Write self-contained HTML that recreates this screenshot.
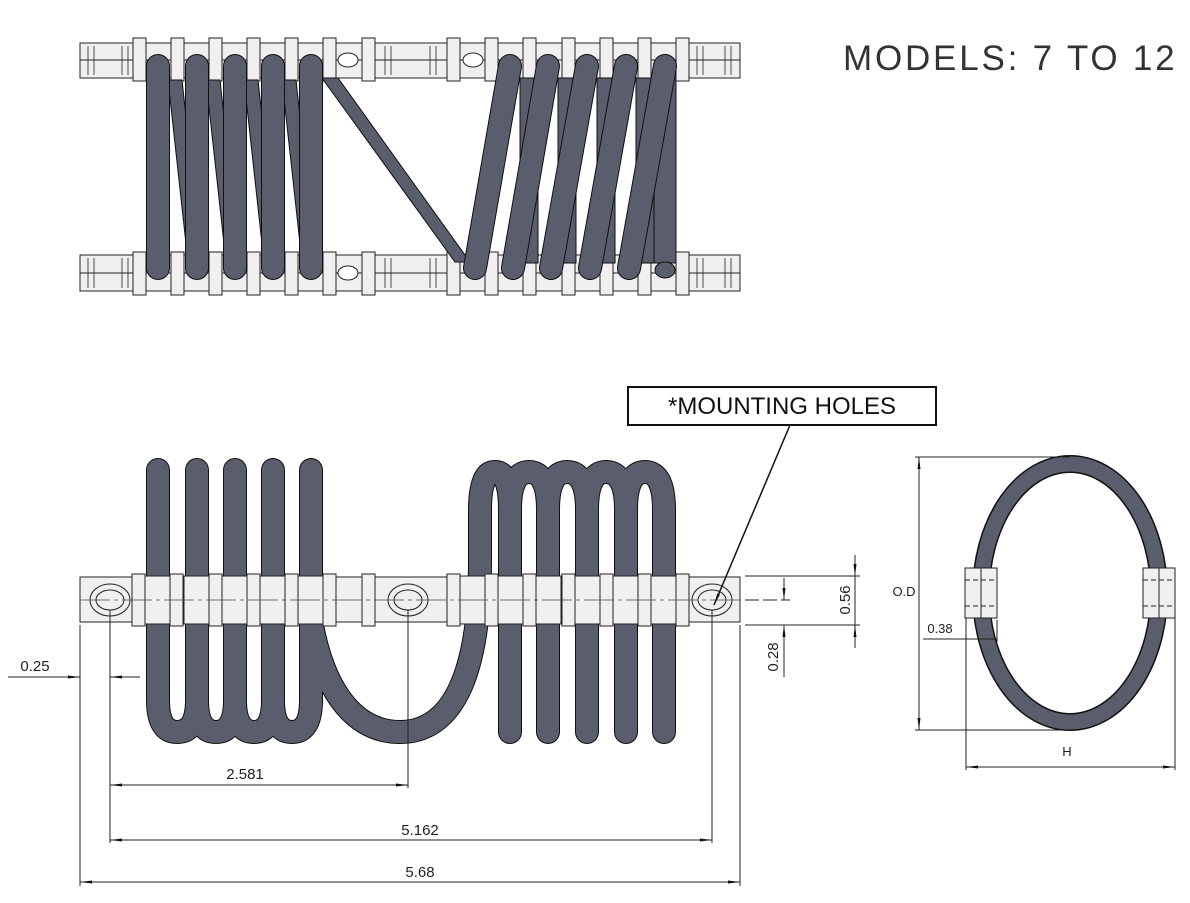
<!DOCTYPE html>
<html><head><meta charset="utf-8"><style>
html,body{margin:0;padding:0;background:#fff;}
svg{display:block;}
text{font-family:"Liberation Sans",sans-serif;}
</style></head><body>
<svg width="1190" height="903" viewBox="0 0 1190 903" xmlns="http://www.w3.org/2000/svg">
<defs>
<marker id="ar" viewBox="0 0 12 6" refX="12" refY="3" markerWidth="12" markerHeight="6" orient="auto-start-reverse" markerUnits="userSpaceOnUse"><path d="M0,1.5 L12,3 L0,4.5z" fill="#111"/></marker>
</defs>
<rect width="1190" height="903" fill="#fff"/>
<text x="843" y="70" font-size="35" fill="#333" letter-spacing="2.8">MODELS: 7 TO 12</text>

<!-- TOP VIEW -->
<g stroke="#222" stroke-width="1">
<rect x="80" y="43" width="660" height="35" fill="#f0f0f0"/>
<rect x="80" y="255" width="660" height="36" fill="#f0f0f0"/>
<line x1="80" y1="60" x2="740" y2="60"/>
<line x1="80" y1="273" x2="740" y2="273"/>
<g stroke-width="0.8">
<line x1="88" y1="46" x2="88" y2="75"/><line x1="94" y1="46" x2="94" y2="75"/><line x1="122" y1="46" x2="122" y2="75"/><line x1="128" y1="46" x2="128" y2="75"/>
<line x1="88" y1="258" x2="88" y2="288"/><line x1="94" y1="258" x2="94" y2="288"/><line x1="122" y1="258" x2="122" y2="288"/><line x1="128" y1="258" x2="128" y2="288"/>
<line x1="385" y1="46" x2="385" y2="75"/><line x1="391" y1="46" x2="391" y2="75"/><line x1="430" y1="46" x2="430" y2="75"/><line x1="436" y1="46" x2="436" y2="75"/>
<line x1="385" y1="258" x2="385" y2="288"/><line x1="391" y1="258" x2="391" y2="288"/><line x1="430" y1="258" x2="430" y2="288"/><line x1="436" y1="258" x2="436" y2="288"/>
<line x1="697" y1="46" x2="697" y2="75"/><line x1="703" y1="46" x2="703" y2="75"/><line x1="725" y1="46" x2="725" y2="75"/><line x1="731" y1="46" x2="731" y2="75"/>
<line x1="697" y1="258" x2="697" y2="288"/><line x1="703" y1="258" x2="703" y2="288"/><line x1="725" y1="258" x2="725" y2="288"/><line x1="731" y1="258" x2="731" y2="288"/>
</g>
<g fill="#f0f0f0">
<rect x="133" y="38" width="13" height="43"/><rect x="171" y="38" width="13" height="43"/><rect x="209" y="38" width="13" height="43"/><rect x="247" y="38" width="13" height="43"/><rect x="285" y="38" width="13" height="43"/><rect x="323" y="38" width="13" height="43"/><rect x="362" y="38" width="13" height="43"/><rect x="447" y="38" width="13" height="43"/><rect x="485" y="38" width="13" height="43"/><rect x="523" y="38" width="13" height="43"/><rect x="562" y="38" width="13" height="43"/><rect x="600" y="38" width="13" height="43"/><rect x="638" y="38" width="13" height="43"/><rect x="676" y="38" width="13" height="43"/>
<rect x="133" y="252" width="13" height="43"/><rect x="171" y="252" width="13" height="43"/><rect x="209" y="252" width="13" height="43"/><rect x="247" y="252" width="13" height="43"/><rect x="285" y="252" width="13" height="43"/><rect x="323" y="252" width="13" height="43"/><rect x="362" y="252" width="13" height="43"/><rect x="447" y="252" width="13" height="43"/><rect x="485" y="252" width="13" height="43"/><rect x="523" y="252" width="13" height="43"/><rect x="562" y="252" width="13" height="43"/><rect x="600" y="252" width="13" height="43"/><rect x="638" y="252" width="13" height="43"/><rect x="676" y="252" width="13" height="43"/>
</g>
<ellipse cx="348" cy="60" rx="10" ry="7" fill="#fff"/>
<ellipse cx="473" cy="60" rx="10" ry="7" fill="#fff"/>
<ellipse cx="348" cy="273" rx="10" ry="7" fill="#fff"/>
</g>
<g fill="#5a5d6b" stroke="#111" stroke-width="1">
<polygon points="168,80 182,80 202,262 188,262"/>
<polygon points="206,80 220,80 240,262 226,262"/>
<polygon points="244,80 258,80 278,262 264,262"/>
<polygon points="282,80 296,80 316,262 302,262"/>
<polygon points="322,78 338,78 470,262 455,262"/>
<rect x="520" y="78" width="18" height="185"/><rect x="558" y="78" width="18" height="185"/><rect x="597" y="78" width="18" height="185"/><rect x="636" y="78" width="18" height="185"/><rect x="654" y="78" width="22" height="185"/>
</g>
<g stroke-linecap="round" fill="none">
<g stroke="#111" stroke-width="24">
<path d="M158,66V268M197,66V268M235,66V268M273,66V268M311,66V268"/>
<path d="M475,268L510,66M513,268L548,66M551,268L587,66M590,268L626,66M629,268L665,66"/>
</g>
<g stroke="#5a5d6b" stroke-width="22">
<path d="M158,66V268M197,66V268M235,66V268M273,66V268M311,66V268"/>
<path d="M475,268L510,66M513,268L548,66M551,268L587,66M590,268L626,66M629,268L665,66"/>
</g>
</g>
<ellipse cx="665" cy="270" rx="10" ry="8" fill="#5a5d6b" stroke="#111"/>

<!-- FRONT VIEW coils -->
<g fill="none" stroke-linecap="round">
<g stroke="#111" stroke-width="24">
<path d="M158,470V700Q158,732 177,732Q197,732 197,700V470"/>
<path d="M197,700Q197,732 216,732Q235,732 235,700V470"/>
<path d="M235,700Q235,732 254,732Q273,732 273,700V470"/>
<path d="M273,700Q273,732 292,732Q311,732 311,700V470"/>
<path d="M311,620C325,700 360,732 400,732C450,732 480,680 480,560V510Q480,472 495,472Q510,472 510,510V732"/>
<path d="M510,510Q510,472 529,472Q548,472 548,510V732"/>
<path d="M548,510Q548,472 567,472Q587,472 587,510V732"/>
<path d="M587,510Q587,472 606,472Q626,472 626,510V732"/>
<path d="M626,510Q626,472 645,472Q664,472 664,510V732"/>
</g>
<g stroke="#5a5d6b" stroke-width="22">
<path d="M158,470V700Q158,732 177,732Q197,732 197,700V470"/>
<path d="M197,700Q197,732 216,732Q235,732 235,700V470"/>
<path d="M235,700Q235,732 254,732Q273,732 273,700V470"/>
<path d="M273,700Q273,732 292,732Q311,732 311,700V470"/>
<path d="M311,620C325,700 360,732 400,732C450,732 480,680 480,560V510Q480,472 495,472Q510,472 510,510V732"/>
<path d="M510,510Q510,472 529,472Q548,472 548,510V732"/>
<path d="M548,510Q548,472 567,472Q587,472 587,510V732"/>
<path d="M587,510Q587,472 606,472Q626,472 626,510V732"/>
<path d="M626,510Q626,472 645,472Q664,472 664,510V732"/>
</g>
</g>
<g stroke="#222" stroke-width="1" fill="#f0f0f0">
<rect x="80" y="577" width="660" height="45"/>
<rect x="132" y="574" width="13" height="52"/><rect x="145" y="576" width="25" height="48"/>
<rect x="170" y="574" width="13" height="52"/><rect x="184" y="576" width="25" height="48"/>
<rect x="209" y="574" width="13" height="52"/><rect x="222" y="576" width="25" height="48"/>
<rect x="247" y="574" width="13" height="52"/><rect x="260" y="576" width="25" height="48"/>
<rect x="285" y="574" width="13" height="52"/><rect x="298" y="576" width="25" height="48"/>
<rect x="323" y="574" width="13" height="52"/><rect x="362" y="574" width="13" height="52"/>
<rect x="447" y="574" width="13" height="52"/><rect x="460" y="576" width="25" height="48"/>
<rect x="485" y="574" width="13" height="52"/><rect x="498" y="576" width="25" height="48"/>
<rect x="523" y="574" width="13" height="52"/><rect x="536" y="576" width="25" height="48"/>
<rect x="562" y="574" width="13" height="52"/><rect x="575" y="576" width="25" height="48"/>
<rect x="600" y="574" width="13" height="52"/><rect x="613" y="576" width="25" height="48"/>
<rect x="638" y="574" width="13" height="52"/><rect x="651" y="576" width="25" height="48"/>
<rect x="676" y="574" width="13" height="52"/>
<ellipse cx="110" cy="600" rx="20" ry="16"/><ellipse cx="110" cy="600" rx="14" ry="10"/>
<ellipse cx="408" cy="600" rx="20" ry="16"/><ellipse cx="408" cy="600" rx="14" ry="10"/>
<ellipse cx="712" cy="600" rx="20" ry="16"/><ellipse cx="712" cy="600" rx="14" ry="10"/>
</g>
<g stroke="#444" stroke-width="0.8">
<line x1="80" y1="600" x2="740" y2="600" stroke-dasharray="30 4 4 4"/>
</g>

<g stroke="#222" stroke-width="1" fill="none">
<line x1="80" y1="625" x2="80" y2="886"/>
<line x1="110" y1="610" x2="110" y2="843"/>
<line x1="408" y1="610" x2="408" y2="788"/>
<line x1="712" y1="610" x2="712" y2="843"/>
<line x1="740" y1="625" x2="740" y2="886"/>
<line x1="8" y1="677" x2="80" y2="677" marker-end="url(#ar)"/>
<line x1="140" y1="677" x2="110" y2="677" marker-end="url(#ar)"/>
<line x1="110" y1="785" x2="408" y2="785" marker-start="url(#ar)" marker-end="url(#ar)"/>
<line x1="110" y1="840" x2="712" y2="840" marker-start="url(#ar)" marker-end="url(#ar)"/>
<line x1="80" y1="882" x2="740" y2="882" marker-start="url(#ar)" marker-end="url(#ar)"/>
<line x1="745" y1="576" x2="860" y2="576"/>
<line x1="745" y1="625" x2="860" y2="625"/>
<line x1="745" y1="600" x2="790" y2="600" stroke-dasharray="14 4"/>
<line x1="855" y1="555" x2="855" y2="576" marker-end="url(#ar)"/>
<line x1="855" y1="648" x2="855" y2="625" marker-end="url(#ar)"/>
<line x1="855" y1="576" x2="855" y2="625"/>
<line x1="784" y1="578" x2="784" y2="600" marker-end="url(#ar)"/>
<line x1="784" y1="677" x2="784" y2="625" marker-end="url(#ar)"/>
</g>
<g font-size="15" fill="#222" text-anchor="middle">
<text x="35" y="671">0.25</text>
<text x="245" y="779">2.581</text>
<text x="420" y="835">5.162</text>
<text x="420" y="877">5.68</text>
<text transform="translate(850,600) rotate(-90)">0.56</text>
<text transform="translate(778,657) rotate(-90)">0.28</text>
</g>

<rect x="628" y="387" width="308" height="38" fill="#fff" stroke="#111" stroke-width="2"/>
<text x="782" y="414" font-size="24" fill="#111" text-anchor="middle">*MOUNTING HOLES</text>
<line x1="790" y1="425" x2="714" y2="605" stroke="#111" stroke-width="1.5" marker-end="url(#ar)"/>

<ellipse cx="1070" cy="593" rx="89" ry="129" fill="none" stroke="#111" stroke-width="18"/>
<ellipse cx="1070" cy="593" rx="89" ry="129" fill="none" stroke="#5a5d6b" stroke-width="15"/>
<g stroke="#222" stroke-width="1" fill="#f0f0f0">
<rect x="965" y="568" width="32" height="50"/><line x1="981" y1="568" x2="981" y2="618"/>
<rect x="1143" y="568" width="32" height="50"/><line x1="1159" y1="568" x2="1159" y2="618"/>
<line x1="965" y1="580" x2="997" y2="580" stroke-dasharray="5 3"/><line x1="965" y1="606" x2="997" y2="606" stroke-dasharray="5 3"/>
<line x1="1143" y1="580" x2="1175" y2="580" stroke-dasharray="5 3"/><line x1="1143" y1="606" x2="1175" y2="606" stroke-dasharray="5 3"/>
</g>
<g stroke="#222" stroke-width="1" fill="none">
<line x1="915" y1="457" x2="1070" y2="457"/>
<line x1="915" y1="730" x2="1070" y2="730"/>
<line x1="919" y1="457" x2="919" y2="730" marker-start="url(#ar)" marker-end="url(#ar)"/>
<line x1="966" y1="618" x2="966" y2="770"/>
<line x1="1175" y1="618" x2="1175" y2="770"/>
<line x1="966" y1="767" x2="1175" y2="767" marker-start="url(#ar)" marker-end="url(#ar)"/>
<line x1="923" y1="639" x2="997" y2="639"/>
<line x1="997" y1="620" x2="997" y2="642"/>
</g>
<g font-size="13" fill="#222" text-anchor="middle">
<text x="904" y="596">O.D</text>
<text x="940" y="633">0.38</text>
<text x="1067" y="756">H</text>
</g>
</svg>
</body></html>
